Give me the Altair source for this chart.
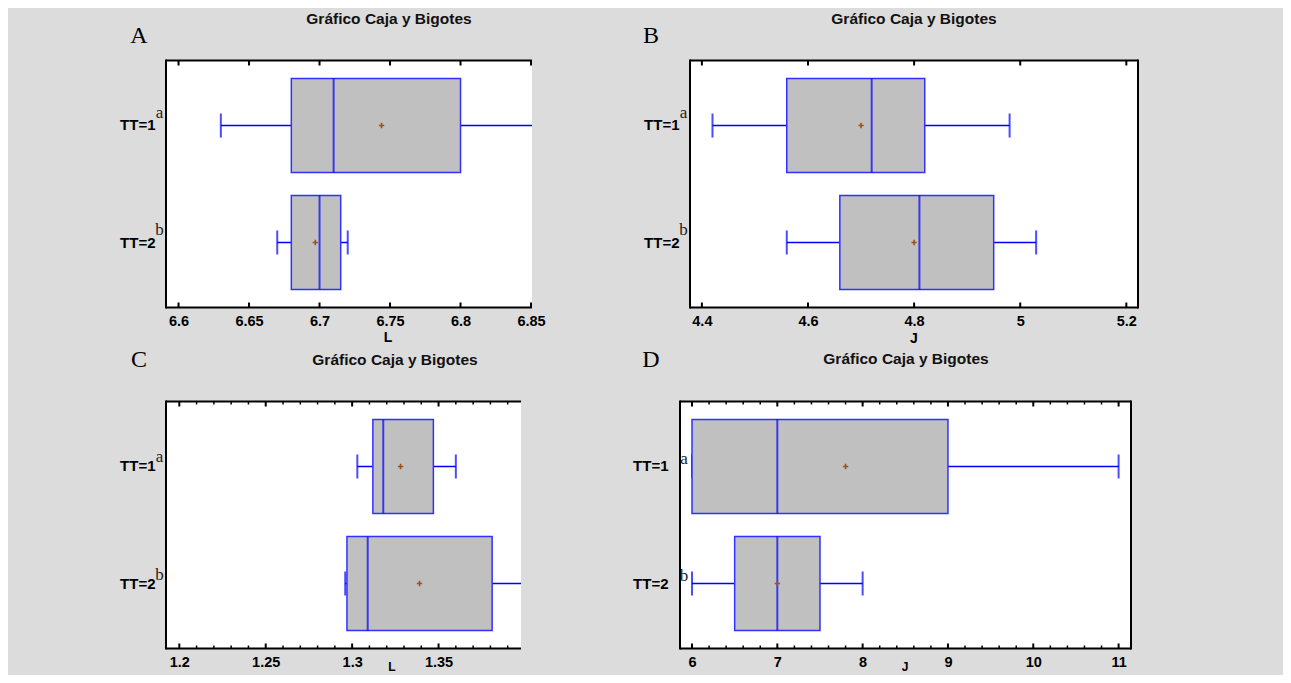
import altair as alt
import pandas as pd

# ---------------- data ----------------
groups = ["TT=1", "TT=2"]
sub_letters = ["a", "b"]
chart_title = "Gráfico Caja y Bigotes"
panel_letters = ["A", "B", "C", "D"]
x_titles = ["L", "J", "L", "J"]

# Panel A (L)
a_min = [6.63, 6.67]
a_q1 = [6.68, 6.68]
a_med = [6.71, 6.70]
a_q3 = [6.80, 6.715]
a_max = [6.88, 6.72]
a_mean = [6.744, 6.697]
a_major = [6.6, 6.65, 6.7, 6.75, 6.8, 6.85]

# Panel B (J)
b_min = [4.42, 4.56]
b_q1 = [4.56, 4.66]
b_med = [4.72, 4.81]
b_q3 = [4.82, 4.95]
b_max = [4.98, 5.03]
b_mean = [4.70, 4.80]
b_major = [4.4, 4.6, 4.8, 5.0, 5.2]

# Panel C (L)
c_min = [1.303, 1.296]
c_q1 = [1.312, 1.297]
c_med = [1.318, 1.309]
c_q3 = [1.347, 1.381]
c_max = [1.360, 1.410]
c_mean = [1.328, 1.339]
c_major = [1.2, 1.25, 1.3, 1.35]
c_minor = [1.21, 1.22, 1.23, 1.24, 1.26, 1.27, 1.28, 1.29,
           1.31, 1.32, 1.33, 1.34, 1.36, 1.37, 1.38, 1.39]

# Panel D (J)
d_min = [6.0, 6.0]
d_q1 = [6.0, 6.5]
d_med = [7.0, 7.0]
d_q3 = [9.0, 7.5]
d_max = [11.0, 8.0]
d_mean = [7.8, 7.0]
d_major = [6, 7, 8, 9, 10, 11]
d_minor = [6.2, 6.4, 6.6, 6.8, 7.2, 7.4, 7.6, 7.8, 8.2, 8.4, 8.6, 8.8,
           9.2, 9.4, 9.6, 9.8, 10.2, 10.4, 10.6, 10.8]

# ---------------- styling ----------------
SANS = "Liberation Sans"
SERIF = "Liberation Serif"
BOX_FILL = "#c0c0c0"
BOX_STROKE = "#3030ff"
WHISK = "#0000ff"
MEAN_C = "#a0501a"
PLUS = "M-1,0L1,0M0,-1L0,1"
H = 247


def panel(mins, q1s, meds, q3s, maxs, means, domain, width, major, minor,
          right_border, title_xy, letter, letter_xy, xtitle, xtitle_xy,
          xtitle_size, sub_x, sub_dy, ylab_pad):
    df = pd.DataFrame({"group": groups, "sub": sub_letters, "lo": mins,
                       "q1": q1s, "med": meds, "q3": q3s, "hi": maxs,
                       "mean": means})
    xs = alt.Scale(domain=domain, nice=False, zero=False)
    xaxis = alt.Axis(values=major, format="~g", ticks=False, domain=False,
                     grid=False, labelFont=SANS, labelFontSize=14.5,
                     labelFontWeight="bold", labelColor="black",
                     labelPadding=7, labelFlush=False, labelOverlap=False)
    ys = alt.Scale(domain=groups, paddingInner=0.1966, paddingOuter=0.1538)
    yaxis = alt.Axis(ticks=False, domain=False, grid=False, labelFont=SANS,
                     labelFontSize=15, labelFontWeight="bold",
                     labelColor="black", labelPadding=ylab_pad)

    def X(f):
        return alt.X(f, type="quantitative", scale=xs, axis=xaxis, title=None)

    Y = alt.Y("group:N", scale=ys, axis=yaxis, title=None)

    base = alt.Chart(df)
    whisker = base.mark_rule(color=WHISK, strokeWidth=1.7, clip=True).encode(
        x=X("lo"), x2="hi", y=Y)
    cap_lo = base.mark_tick(color=WHISK, thickness=2, size=24, clip=True).encode(
        x=X("lo"), y=Y)
    cap_hi = base.mark_tick(color=WHISK, thickness=2, size=24, clip=True).encode(
        x=X("hi"), y=Y)
    box = base.mark_bar(fill=BOX_FILL, stroke=BOX_STROKE, strokeWidth=1.5,
                        clip=True).encode(x=X("q1"), x2="q3", y=Y)
    median = base.mark_tick(color=WHISK, thickness=2, size=94, clip=True).encode(
        x=X("med"), y=Y)
    mean = base.mark_point(shape=PLUS, filled=False, color=MEAN_C, size=28,
                           strokeWidth=1.6, opacity=1).encode(x=X("mean"), y=Y)
    subs = base.mark_text(font=SERIF, fontSize=17, align="center",
                          baseline="alphabetic", dy=sub_dy,
                          color="#222222").encode(
        x=alt.value(sub_x), y=Y, text="sub:N")

    layers = [whisker, cap_lo, cap_hi, box, median, mean, subs]

    tdf = pd.DataFrame({"v": major})
    tick_top = alt.Chart(tdf).mark_rule(color="black", strokeWidth=2,
                                        clip=True).encode(
        x=X("v"), y=alt.value(0), y2=alt.value(5))
    tick_bot = alt.Chart(tdf).mark_rule(color="black", strokeWidth=2,
                                        clip=True).encode(
        x=X("v"), y=alt.value(H), y2=alt.value(H - 5))
    layers += [tick_top, tick_bot]
    if minor:
        mdf = pd.DataFrame({"v": minor})
        layers.append(alt.Chart(mdf).mark_rule(color="black", strokeWidth=1.5,
                                               clip=True).encode(
            x=X("v"), y=alt.value(0), y2=alt.value(3)))
        layers.append(alt.Chart(mdf).mark_rule(color="black", strokeWidth=1.5,
                                               clip=True).encode(
            x=X("v"), y=alt.value(H), y2=alt.value(H - 3)))

    one = alt.Data(values=[{"k": 0}])
    frame = alt.Chart(one).mark_rule(color="black", strokeWidth=2)
    layers.append(frame.encode(x=alt.value(0), x2=alt.value(width), y=alt.value(0)))
    layers.append(frame.encode(x=alt.value(0), x2=alt.value(width), y=alt.value(H)))
    layers.append(frame.encode(x=alt.value(0), y=alt.value(-1), y2=alt.value(H + 1)))
    if right_border:
        layers.append(frame.encode(x=alt.value(width), y=alt.value(-1),
                                   y2=alt.value(H + 1)))

    txt = alt.Chart(one)
    layers.append(txt.mark_text(font=SANS, fontSize=15.5, fontWeight="bold",
                                align="center", baseline="alphabetic",
                                color="#111111").encode(
        x=alt.value(title_xy[0]), y=alt.value(title_xy[1]),
        text=alt.value(chart_title)))
    layers.append(txt.mark_text(font=SERIF, fontSize=24, align="center",
                                baseline="alphabetic", color="black").encode(
        x=alt.value(letter_xy[0]), y=alt.value(letter_xy[1]),
        text=alt.value(letter)))
    layers.append(txt.mark_text(font=SANS, fontSize=xtitle_size,
                                fontWeight="bold", align="center",
                                baseline="alphabetic", color="black").encode(
        x=alt.value(xtitle_xy[0]), y=alt.value(H + xtitle_xy[1]),
        text=alt.value(xtitle)))

    return alt.layer(*layers).properties(width=width, height=H)


pA = panel(a_min, a_q1, a_med, a_q3, a_max, a_mean, [6.5911, 6.8507], 366,
           a_major, None, False, (223, -36.5), panel_letters[0], (-27, -18),
           x_titles[0], (222, 34.5), 14, -6.5, -7.5, 11)
pB = panel(b_min, b_q1, b_med, b_q3, b_max, b_mean, [4.3776, 5.2220], 448,
           b_major, None, True, (224, -37), panel_letters[1], (-39, -18),
           x_titles[1], (224, 35), 14, -6.5, -7.5, 11)
pC = panel(c_min, c_q1, c_med, c_q3, c_max, c_mean, [1.1923, 1.3977], 355,
           c_major, c_minor, False, (229, -37), panel_letters[2], (-27, -35),
           x_titles[2], (226, 22), 12, -6.5, -4, 11)
pD = panel(d_min, d_q1, d_med, d_q3, d_max, d_mean, [5.8593, 11.1454], 451,
           d_major, d_minor, True, (226, -38), panel_letters[3], (-29, -35),
           x_titles[3], (225, 22), 12, 4, -2.5, 12)

row1 = alt.hconcat(pA, pB, spacing=158, bounds="flush")
row2 = alt.hconcat(pC, pD, spacing=159, bounds="flush")

# the nested rows count as zero height under "flush", so the spacing
# includes the first row's plot height
chart = alt.vconcat(row1, row2, spacing=H + 94, bounds="flush").properties(
    autosize=alt.AutoSizeParams(type="none"),
    padding={"left": 158, "top": 52.5, "right": 1117, "bottom": 614.5},
    background="#dcdcdc",
).configure_view(fill="white", stroke=None)

chart.save("out.html", embed_options={"renderer": "svg", "actions": False})
